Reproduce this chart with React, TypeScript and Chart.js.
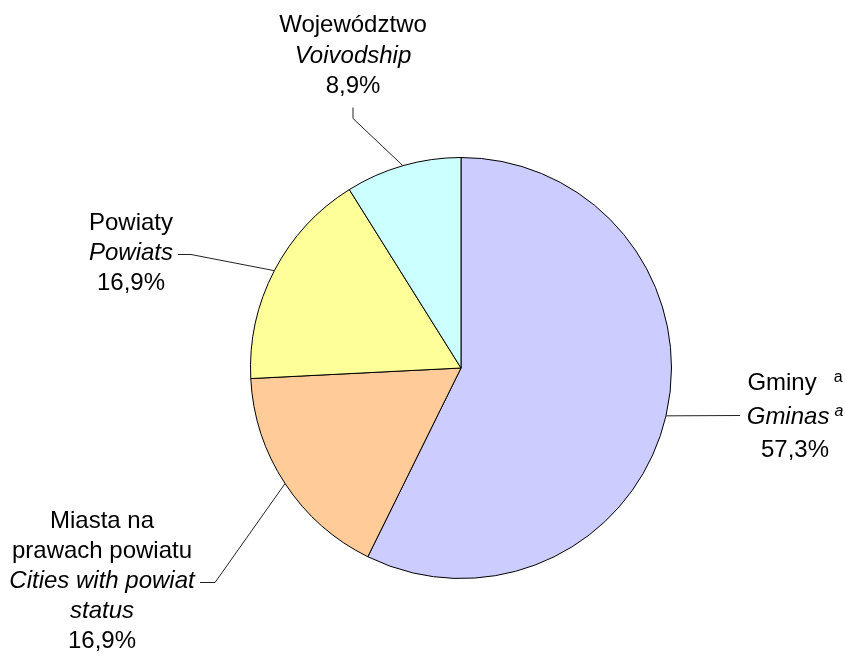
import { useEffect, useRef } from "react";
import { Chart, registerables } from "chart.js";

Chart.register(...registerables);

// ---- data ----
const categories = ["Gminy", "Miasta na prawach powiatu", "Powiaty", "Województwo"];
const sharePercent = [57.3, 16.9, 16.9, 8.9];
const valueLabels = ["57,3%", "16,9%", "16,9%", "8,9%"];
const polishLabels = [["Gminy"], ["Miasta na", "prawach powiatu"], ["Powiaty"], ["Województwo"]];
const englishLabels = [["Gminas"], ["Cities with powiat", "status"], ["Powiats"], ["Voivodship"]];
const footnoteMarks = ["a", "", "", ""];

// ---- style / layout ----
const sliceColors = ["#CCCCFF", "#FFCC99", "#FFFF99", "#CCFFFF"];
const FONT = "'Liberation Sans', Arial, sans-serif";
const FONT_SIZE = 24;
const SUP_SIZE = 16;

type Layout = { cx: number; baseline: number; spacing: number; leader: [number, number][]; supGap: number[] };
const labelLayout: Layout[] = [
  { cx: 795, baseline: 390, spacing: 33.5, leader: [[740, 415]], supGap: [17, 5] },
  { cx: 102, baseline: 528, spacing: 30, leader: [[215, 582], [200, 582]], supGap: [0, 0] },
  { cx: 131, baseline: 230, spacing: 30, leader: [[191, 254], [178, 254]], supGap: [0, 0] },
  { cx: 353, baseline: 32, spacing: 30.5, leader: [[353, 118], [353, 107]], supGap: [0, 0] },
];

type Line = { text: string; italic: boolean; sup: string; gap: number };

const labelPlugin = {
  id: "pieLeaderLabels",
  afterDatasetsDraw(chart: any) {
    const ctx: CanvasRenderingContext2D = chart.ctx;
    const meta = chart.getDatasetMeta(0);
    meta.data.forEach((arc: any, i: number) => {
      const { x, y, startAngle, endAngle, outerRadius } = arc.getProps(
        ["x", "y", "startAngle", "endAngle", "outerRadius"],
        true
      );
      const mid = (startAngle + endAngle) / 2;
      const px = x + Math.cos(mid) * outerRadius;
      const py = y + Math.sin(mid) * outerRadius;
      const lay = labelLayout[i];
      ctx.save();
      ctx.strokeStyle = "#222";
      ctx.lineWidth = 1;
      ctx.beginPath();
      ctx.moveTo(px, py);
      lay.leader.forEach(([lx, ly]) => ctx.lineTo(lx, ly + 0.5));
      ctx.stroke();

      const lines: Line[] = [];
      polishLabels[i].forEach((t, k) =>
        lines.push({ text: t, italic: false, sup: k === polishLabels[i].length - 1 ? footnoteMarks[i] : "", gap: lay.supGap[0] })
      );
      englishLabels[i].forEach((t, k) =>
        lines.push({ text: t, italic: true, sup: k === englishLabels[i].length - 1 ? footnoteMarks[i] : "", gap: lay.supGap[1] })
      );
      lines.push({ text: valueLabels[i], italic: false, sup: "", gap: 0 });

      ctx.fillStyle = "#000";
      ctx.textBaseline = "alphabetic";
      ctx.textAlign = "left";
      lines.forEach((ln, k) => {
        const mainFont = `${ln.italic ? "italic " : ""}${FONT_SIZE}px ${FONT}`;
        const supFont = `${ln.italic ? "italic " : ""}${SUP_SIZE}px ${FONT}`;
        ctx.font = mainFont;
        const w1 = ctx.measureText(ln.text).width;
        ctx.font = supFont;
        const w2 = ln.sup ? ctx.measureText(ln.sup).width + ln.gap : 0;
        const total = w1 + w2;
        const left = lay.cx - total / 2;
        const by = lay.baseline + k * lay.spacing;
        ctx.font = mainFont;
        ctx.fillText(ln.text, left, by);
        if (ln.sup) {
          ctx.font = supFont;
          ctx.fillText(ln.sup, left + w1 + ln.gap, by - 8);
        }
      });
      ctx.restore();
    });
  },
};

export default function App() {
  const ref = useRef<HTMLCanvasElement | null>(null);
  useEffect(() => {
    document.body.style.margin = "0";
    const canvas = ref.current;
    if (!canvas) return;
    const chart = new Chart(canvas, {
      type: "pie",
      data: {
        labels: categories,
        datasets: [
          {
            data: sharePercent,
            backgroundColor: sliceColors,
            borderColor: "#000000",
            borderWidth: 1,
            borderAlign: "center",
          },
        ],
      },
      options: {
        responsive: false,
        animation: false,
        events: [],
        layout: { padding: { left: 250, right: 173, top: 157, bottom: 77 } },
        plugins: { legend: { display: false }, tooltip: { enabled: false } },
      },
      plugins: [labelPlugin],
    });
    return () => chart.destroy();
  }, []);
  return (
    <div style={{ width: 845, height: 656, background: "#fff" }}>
      <canvas ref={ref} width={845} height={656} style={{ display: "block" }} />
    </div>
  );
}
